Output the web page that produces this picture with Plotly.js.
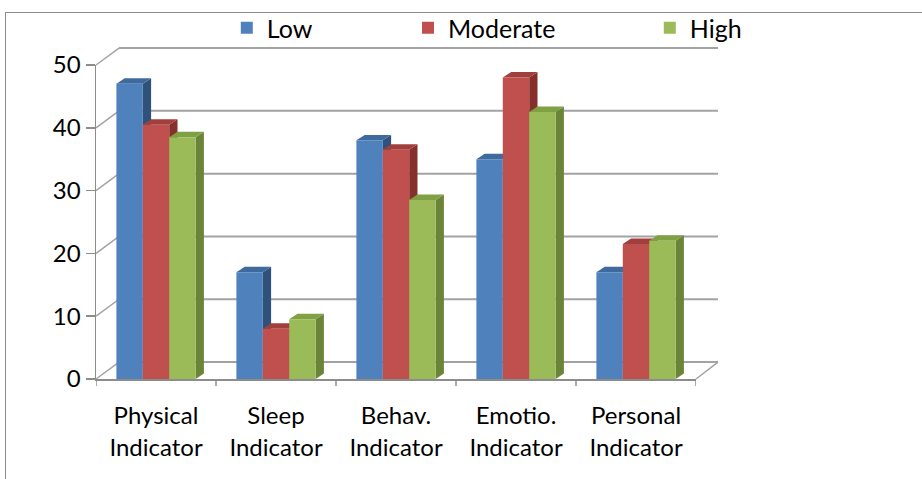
<!DOCTYPE html>
<html><head><meta charset="utf-8">
<script src="https://cdn.plot.ly/plotly-3.0.1.min.js"></script>
<style>
body{margin:0;background:#fff;}
#chart{position:absolute;left:0;top:0;width:922px;height:479px;}
#frame{position:absolute;left:5px;top:12px;width:940px;height:500px;border-left:1.5px solid #8c8c8c;border-top:1.5px solid #8c8c8c;pointer-events:none;}
</style>
</head><body>
<div id="chart"></div><div id="frame"></div>
<script>
const categories = ['Physical<br>Indicator', 'Sleep<br>Indicator', 'Behav.<br>Indicator', 'Emotio.<br>Indicator', 'Personal<br>Indicator'];
const seriesNames = ['Low', 'Moderate', 'High'];
const lowValues = [47, 17, 38, 35, 17];
const moderateValues = [40.5, 8, 36.5, 48, 21.5];
const highValues = [38.5, 9.5, 28.5, 42.5, 22];
const yTicks = [0, 10, 20, 30, 40, 50];

const seriesValues = [lowValues, moderateValues, highValues];
const frontColors = ['#4F81BD', '#C0504D', '#9BBB59'];
const topColors = ['#3F6A9E', '#A03F3C', '#80A044'];
const sideColors = ['#30517A', '#86302D', '#6A8537'];
const legendIds = ['legend', 'legend2', 'legend3'];

const bargap = 0.34;
const barW = (1 - bargap) / 3;
const plotWpx = 600, plotHpx = 315, yMax = 50;
const depthX = 8.3 / (plotWpx / categories.length); // category units
const depthY = 5.5 / (plotHpx / yMax);               // value units
const wallDx = 23 / plotWpx, wallDy = 17 / plotHpx; // paper units
const wallRight = 1 + 22 / plotWpx;

const traces = seriesNames.map((name, k) => ({
  type: 'bar', name: name, x: categories.map((c, i) => i), y: seriesValues[k],
  marker: {color: frontColors[k], line: {width: 0}},
  legend: legendIds[k], hoverinfo: 'skip'
}));

const shapes = [];
yTicks.forEach(v => {
  const yp = v / yMax;
  shapes.push({type: 'line', xref: 'paper', yref: 'paper', x0: wallDx, x1: wallRight, y0: yp + wallDy, y1: yp + wallDy,
    line: {color: '#A3A3A3', width: 2}, layer: 'below'});
  shapes.push({type: 'line', xref: 'paper', yref: 'paper', x0: 0, x1: wallDx, y0: yp, y1: yp + wallDy,
    line: {color: '#A3A3A3', width: 1.5}, layer: 'below'});
});
shapes.push({type: 'line', xref: 'paper', yref: 'paper', x0: 1, x1: wallRight, y0: 0, y1: wallDy,
  line: {color: '#A3A3A3', width: 1.5}, layer: 'below'});

seriesValues.forEach((vals, k) => {
  vals.forEach((v, i) => {
    const xl = i + (k - 1) * barW - barW / 2;
    const xr = xl + barW;
    shapes.push({type: 'path', xref: 'x', yref: 'y', layer: 'below',
      path: `M${xr},0 L${xr},${v} L${xr + depthX},${v + depthY} L${xr + depthX},${depthY} Z`,
      fillcolor: sideColors[k], line: {width: 0}});
    shapes.push({type: 'path', xref: 'x', yref: 'y', layer: 'below',
      path: `M${xl},${v} L${xr},${v} L${xr + depthX},${v + depthY} L${xl + depthX},${v + depthY} Z`,
      fillcolor: topColors[k], line: {width: 0}});
  });
});

const font = {family: 'Lato, sans-serif', size: 24, color: '#000'};
const legendFont = {family: 'Lato, sans-serif', size: 25, color: '#000'};
const legendBase = {orientation: 'h', yref: 'container', yanchor: 'middle', y: 1 - 28 / 479, xanchor: 'left', font: legendFont, bgcolor: 'rgba(0,0,0,0)', itemwidth: 30};

const layout = {
  width: 922, height: 479,
  margin: {l: 96, r: 226, t: 65, b: 100},
  paper_bgcolor: 'rgba(0,0,0,0)', plot_bgcolor: 'rgba(0,0,0,0)',
  barmode: 'group', bargap: bargap, bargroupgap: 0,
  font: font,
  showlegend: true,
  legend: Object.assign({}, legendBase, {x: 0.218}),
  legend2: Object.assign({}, legendBase, {x: 0.52}),
  legend3: Object.assign({}, legendBase, {x: 0.923}),
  xaxis: {
    type: 'linear', range: [-0.5, 4.5], tickvals: categories.map((c, i) => i), ticktext: categories,
    showgrid: false, zeroline: false, showline: true, linecolor: '#8c8c8c', linewidth: 1.5,
    ticks: '', ticklen: 0, ticklabelstandoff: 15, tickfont: font, fixedrange: true
  },
  yaxis: {
    range: [0, yMax], tickvals: yTicks, showgrid: false, zeroline: false,
    showline: true, linecolor: '#8c8c8c', linewidth: 1.5,
    ticks: 'outside', ticklen: 9, tickcolor: '#8c8c8c', tickwidth: 1.5, ticklabelstandoff: 0,
    tickfont: font, fixedrange: true
  },
  shapes: shapes
};
for (let b = 0; b <= categories.length; b++) {
  layout.shapes.push({type: 'line', xref: 'x', yref: 'paper', x0: b - 0.5, x1: b - 0.5, y0: 0, y1: -7 / plotHpx,
    line: {color: '#8c8c8c', width: 1.5}});
}

Plotly.newPlot('chart', traces, layout, {displayModeBar: false, staticPlot: true});
</script>
</body></html>
